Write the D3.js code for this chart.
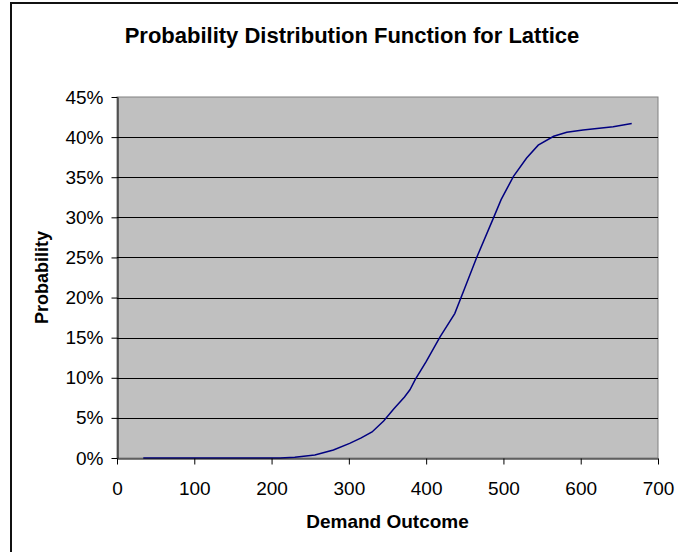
<!DOCTYPE html>
<html>
<head>
<meta charset="utf-8">
<script src="https://cdn.jsdelivr.net/npm/d3@7"></script>
<style>
  body { margin: 0; background: #fff; }
  svg { display: block; font-family: "Liberation Sans", Arial, sans-serif; }
</style>
</head>
<body>
<div id="chart"></div>
<script>
// demand outcome (x) and probability in % (y)
const demand = [34, 60, 100, 140, 180, 211, 230, 256, 280, 301, 316, 330, 345, 358, 372, 379, 386,
                400, 418, 437, 450, 465, 487, 497, 513, 530, 545, 565, 582, 603, 642, 666];
const probability = [0, 0, 0, 0, 0, 0, 0.1, 0.37, 1.0, 1.83, 2.5, 3.25, 4.6, 6.1, 7.6, 8.5, 9.8,
                     12.0, 15.1, 18.0, 21.2, 24.9, 29.9, 32.2, 35.1, 37.4, 39.0, 40.1, 40.6, 40.9, 41.3, 41.7];
const xTicks = [0, 100, 200, 300, 400, 500, 600, 700];
const yTicks = [0, 5, 10, 15, 20, 25, 30, 35, 40, 45];

const width = 678;
const height = 552;
const margin = { top: 97, bottom: 94, left: 117 };
const plotRight = 658;

const svg = d3.select("#chart")
    .append("svg")
    .attr("width", width)
    .attr("height", height);

// outer chart frame (runs past the right/bottom edge)
svg.append("rect")
    .attr("x", 11)
    .attr("y", 3)
    .attr("width", 690)
    .attr("height", 570)
    .attr("fill", "#fff")
    .attr("stroke", "#111")
    .attr("stroke-width", 2);

const x = d3.scaleLinear()
    .domain([0, 700])
    .range([margin.left, plotRight]);

const y = d3.scaleLinear()
    .domain([0, 45])
    .range([height - margin.bottom, margin.top]);

// plot area
svg.append("rect")
    .attr("x", x(0))
    .attr("y", y(45))
    .attr("width", x(700) - x(0))
    .attr("height", y(0) - y(45))
    .attr("fill", "#c0c0c0")
    .attr("stroke", "#808080")
    .attr("stroke-width", 1);

// gridlines
svg.append("g")
    .selectAll("line")
    .data(yTicks.filter(d => d > 0 && d < 45))
    .enter()
    .append("line")
    .attr("x1", x(0))
    .attr("x2", x(700))
    .attr("y1", d => Math.round(y(d)) + 0.5)
    .attr("y2", d => Math.round(y(d)) + 0.5)
    .attr("stroke", "#000")
    .attr("stroke-width", 1);

// curve
const line = d3.line()
    .x((d, i) => x(demand[i]))
    .y(d => y(d));

svg.append("path")
    .datum(probability)
    .attr("fill", "none")
    .attr("stroke", "#000080")
    .attr("stroke-width", 1.5)
    .attr("d", line);

// axes
const xAxis = svg.append("g")
    .attr("transform", `translate(0,${Math.round(y(0)) + 0.5})`)
    .call(d3.axisBottom(x).tickValues(xTicks).tickSize(6).tickSizeOuter(0).tickPadding(17));

const yAxis = svg.append("g")
    .attr("transform", `translate(${Math.round(x(0)) + 0.5},0)`)
    .call(d3.axisLeft(y).tickValues(yTicks).tickSize(6).tickSizeOuter(0).tickPadding(8)
        .tickFormat(d => d + "%"));

[xAxis, yAxis].forEach(g => {
    g.select(".domain").attr("stroke", "#000");
    g.selectAll(".tick line").attr("stroke", "#000");
    g.selectAll("text")
        .attr("fill", "#000")
        .style("font-size", "19px")
        .style("font-family", "'Liberation Sans', Arial, sans-serif");
});

// titles
svg.append("text")
    .attr("x", 352)
    .attr("y", 43)
    .attr("text-anchor", "middle")
    .style("font-size", "22px")
    .style("font-weight", "bold")
    .text("Probability Distribution Function for Lattice");

svg.append("text")
    .attr("x", (x(0) + x(700)) / 2)
    .attr("y", 528)
    .attr("text-anchor", "middle")
    .style("font-size", "19px")
    .style("font-weight", "bold")
    .text("Demand Outcome");

svg.append("text")
    .attr("transform", `translate(48,${(y(0) + y(45)) / 2}) rotate(-90)`)
    .attr("text-anchor", "middle")
    .style("font-size", "18px")
    .style("font-weight", "bold")
    .text("Probability");
</script>
</body>
</html>
